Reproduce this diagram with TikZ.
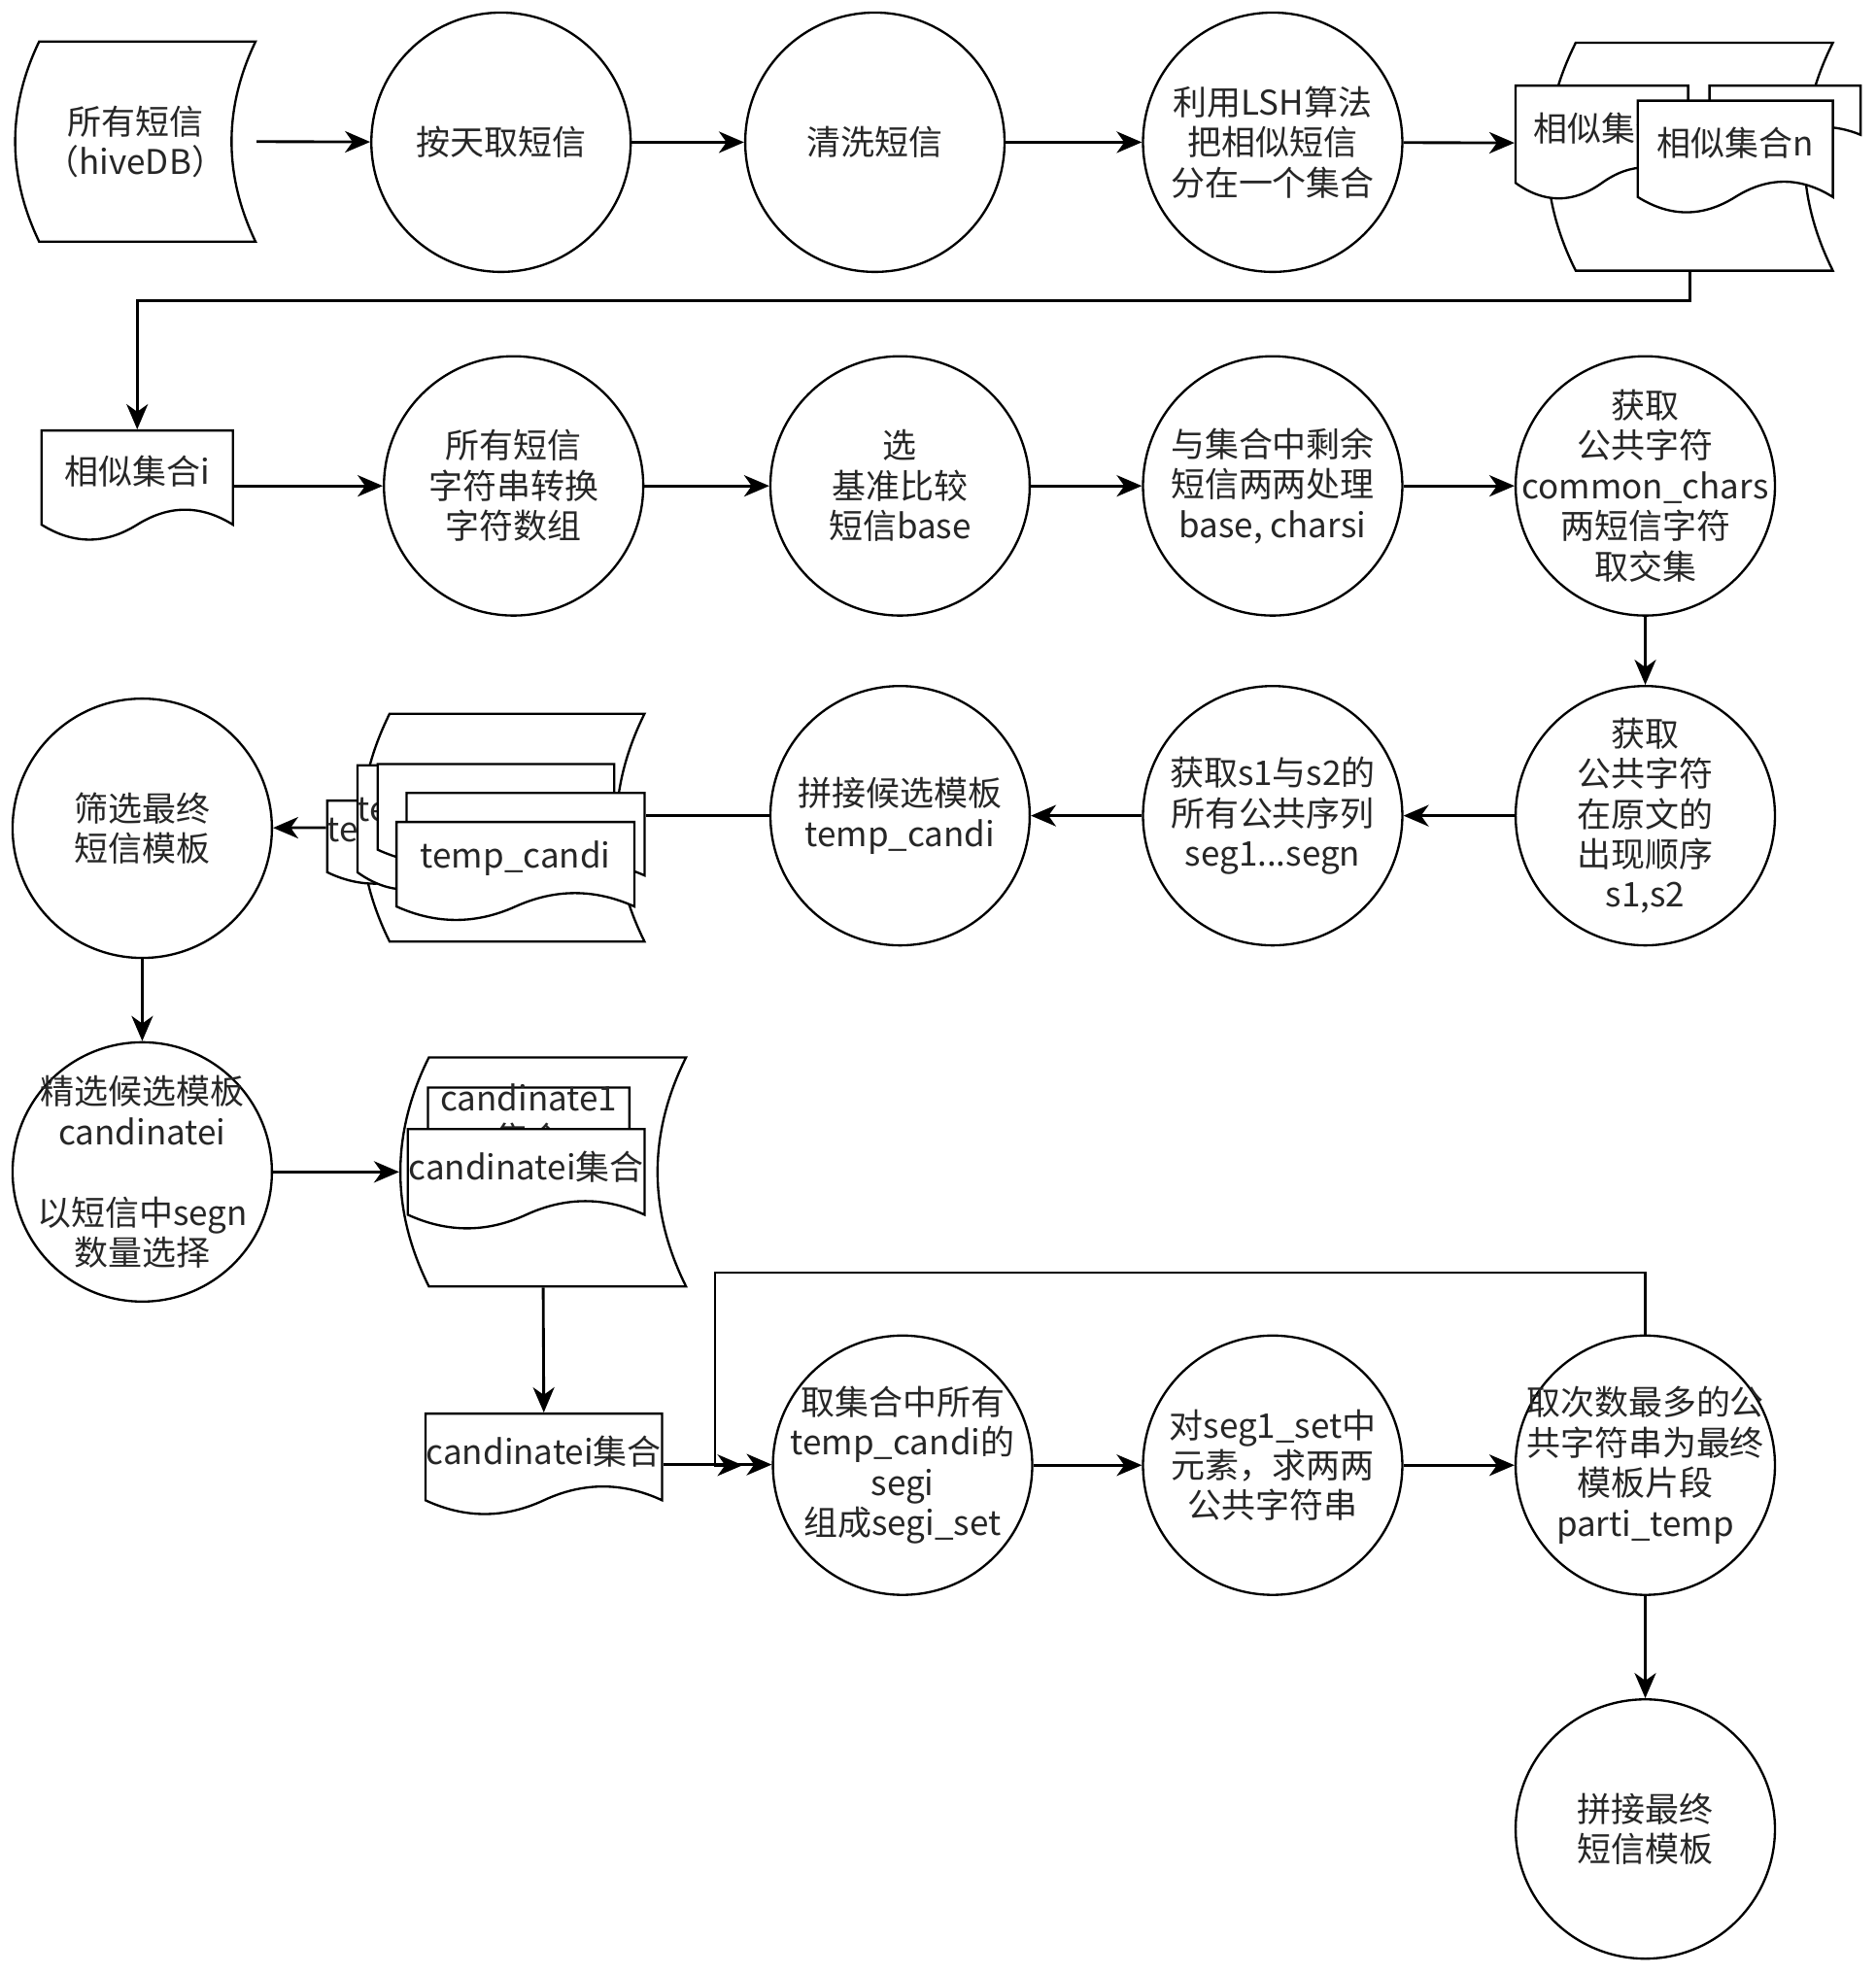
\documentclass[tikz,border=0pt]{standalone}
\usepackage{fontspec}
\setmainfont{Noto Sans CJK SC}
\usetikzlibrary{arrows.meta}

% document with a wavy foot: name, x, y, w, h, text
\newcommand{\docnode}[6]{%
\draw[fill=white] (#2,#3) -- ({#2+#4},#3) -- ({#2+#4},{#3+0.85*#5})
  .. controls ({#2+0.833*#4},{#3+0.67*#5}) and ({#2+0.667*#4},{#3+0.67*#5}) .. ({#2+0.5*#4},{#3+0.85*#5})
  .. controls ({#2+0.333*#4},{#3+1.03*#5}) and ({#2+0.167*#4},{#3+1.03*#5}) .. (#2,{#3+0.85*#5}) -- cycle;
\node[box, minimum width=#4, minimum height=#5] (#1) at ({#2+0.5*#4},{#3+0.5*#5}) {};
\node[txt] (#1t) at ({#2+0.5*#4},{#3+0.37*#5}) {#6};
}
% stored data shape: name, x, y, w, h
\newcommand{\storenode}[5]{%
\draw[fill=white] ({#2+0.1*#4},#3) -- ({#2+#4},#3)
  .. controls ({#2+0.867*#4},{#3+0.333*#5}) and ({#2+0.867*#4},{#3+0.667*#5}) .. ({#2+#4},{#3+#5})
  -- ({#2+0.1*#4},{#3+#5})
  .. controls ({#2-0.033*#4},{#3+0.667*#5}) and ({#2-0.033*#4},{#3+0.333*#5}) .. cycle;
\node[box, minimum width=#4, minimum height=#5] (#1) at ({#2+0.5*#4},{#3+0.5*#5}) {};
}
% process circle: name, x, y, text
\newcommand{\proc}[4]{%
\node[proc] (#1) at (#2,#3) {};
\node[txt] (#1t) at (#1) {#4};
}

\begin{document}
\begin{tikzpicture}[x=1pt,y=-1pt,line width=1.8pt,
  box/.style={rectangle,inner sep=0pt},
  txt/.style={font=\fontsize{27}{32}\selectfont,align=center,inner sep=0pt,text=black!85},
  proc/.style={circle,draw,minimum size=206,inner sep=0pt},
  arr/.style={line width=2.2pt,-{Stealth[length=20pt,width=17pt,inset=6pt]}}]
\useasboundingbox (0,0) rectangle (1490,1569);

% row 1
\storenode{t0}{12}{33}{191}{159}
\node[txt] (t0t) at (t0) {所有短信\\（hiveDB）};
\proc{c1}{398}{113}{按天取短信}
\proc{c2}{695}{113}{清洗短信}
\proc{c3}{1011}{113}{利用LSH算法\\把相似短信\\分在一个集合}
\storenode{g1}{1229}{34}{227}{181}
\docnode{dC}{1358}{68}{120}{46}{}
\docnode{dA}{1204}{68}{137}{91}{相似集合}
\docnode{dB}{1301}{80}{155}{90}{相似集合n}

% row 2
\docnode{dI}{33}{342}{152}{88}{相似集合i}
\proc{c5}{408}{386}{所有短信\\字符串转换\\字符数组}
\proc{c6}{715}{386}{选\\基准比较\\短信base}
\proc{c7}{1011}{386}{与集合中剩余\\短信两两处理\\base, charsi}
\proc{c8}{1307}{386}{获取\\公共字符\\common\_chars\\两短信字符\\取交集}

% row 3
\proc{c9}{1307}{648}{获取\\公共字符\\在原文的\\出现顺序\\s1,s2}
\proc{c10}{1011}{648}{获取s1与s2的\\所有公共序列\\seg1...segn}
\proc{c11}{715}{648}{拼接候选模板\\temp\_candi}
\storenode{g2}{287}{567}{225}{181}
\docnode{dT1}{260}{636}{150}{67}{temp\_candi}
\docnode{dT2}{284}{608}{150}{100}{temp\_candi}
\docnode{dT3}{300}{607}{188}{80}{}
\docnode{dT4}{323}{630}{189}{77}{}
\docnode{dT5}{315}{653}{189}{79}{temp\_candi}
\proc{c12}{113}{658}{筛选最终\\短信模板}

% row 4
\proc{c13}{113}{931}{精选候选模板\\candinatei\\[32pt]以短信中segn\\数量选择}
\storenode{g3}{318}{840}{227}{182}
\docnode{dK1}{340}{864}{160}{68}{candinate1\\集合}
\docnode{dK2}{324}{897}{188}{80}{candinatei集合}

% row 5
\docnode{dK}{338}{1123}{188}{81}{candinatei集合}
\proc{c14}{717}{1164}{取集合中所有\\temp\_candi的\\segi\\组成segi\_set}
\proc{c15}{1011}{1164}{对seg1\_set中\\元素，求两两\\公共字符串}
\proc{c16}{1307}{1164}{取次数最多的公\\共字符串为最终\\模板片段\\parti\_temp}
\proc{c17}{1307}{1453}{拼接最终\\短信模板}
\coordinate (lpa) at (568,1011);
\coordinate (lpb) at (590,1164);

% connectors
\draw[arr] (t0.east) -- (c1);
\draw[arr] (c1) -- (c2);
\draw[arr] (c2) -- (c3);
\draw[arr] (c3) -- (dA.west);
\draw[arr] (g1.south) -- ++(0,23) -| (dI.north);
\draw[arr] (dI.east) -- (c5);
\draw[arr] (c5) -- (c6);
\draw[arr] (c6) -- (c7);
\draw[arr] (c7) -- (c8);
\draw[arr] (c8) -- (c9);
\draw[arr] (c9) -- (c10);
\draw[arr] (c10) -- (c11);
\draw[line width=2.2pt] (c11.west) -- (c11.west -| g2.east);
\draw[arr] (dT1.west |- g2.center) -- (c12);
\draw[arr] (c12) -- (c13);
\draw[arr] (c13) -- (g3.west);
\draw[arr] (g3.south) -- (dK.north);
\draw[arr] (dK.east) -- (dK.east -| c14.west);
\draw[arr] (c14) -- (c15);
\draw[arr] (c15) -- (c16);
\draw[arr] (c16) -- (c17);
\draw[arr] (c16.north) |- (lpa) |- (lpb);
\end{tikzpicture}
\end{document}
